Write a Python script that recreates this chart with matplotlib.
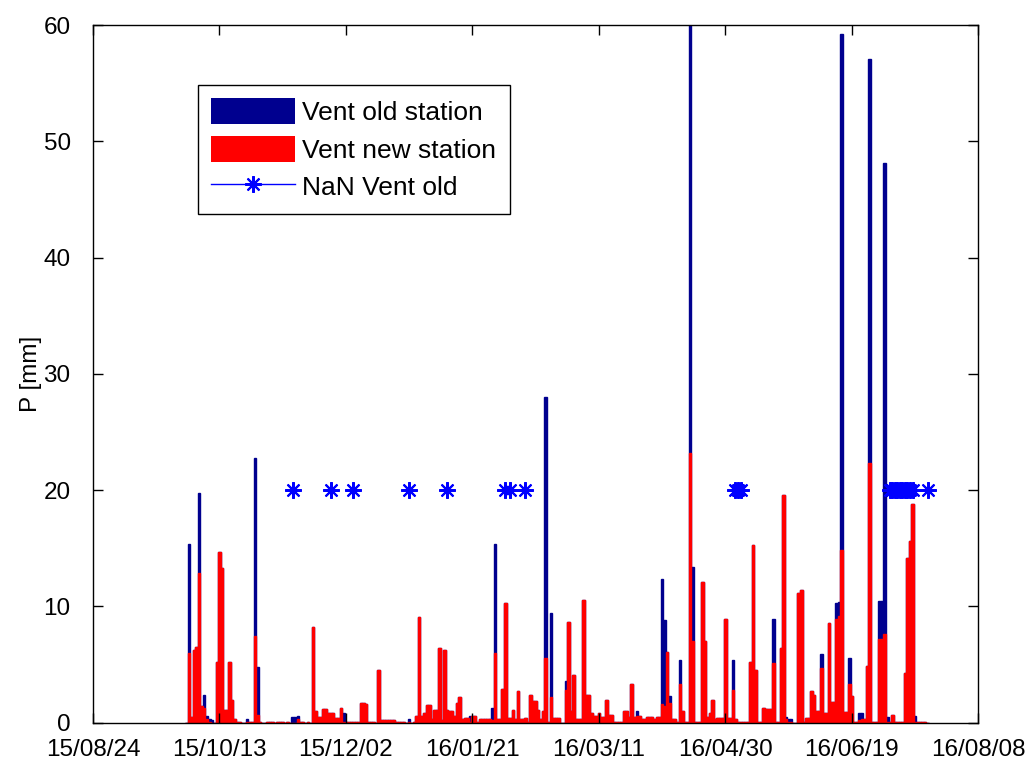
import numpy as np
import matplotlib.pyplot as plt
import matplotlib.dates as mdates
from matplotlib.lines import Line2D
from matplotlib.patches import Patch

# daily precipitation, first value is 2015-09-30
first_day = np.datetime64('2015-09-30')

old_p = [0, 15.4, 0.5, 6.3, 6.5, 19.8, 1.4, 2.4, 0.6, 0.3,
         0.2, 0, 5.2, 14.7, 13.3, 1.1, 1.1, 5.2, 2.0, 0.3,
         0.1, 0.1, 0, 0, 0.3, 0.1, 0.1, 22.8, 4.8, 0.1,
         0, 0, 0.1, 0.1, 0.1, 0, 0.1, 0.1, 0.1, 0,
         0.1, 0, 0.5, 0.5, 0.6, 0.1, 0.1, 0, 0.1, 0,
         8.2, 1.0, 0.5, 0.5, 1.2, 1.2, 0.8, 0.8, 0.8, 0.4,
         0.4, 1.3, 0.8, 0.1, 0.1, 0.1, 0.1, 0.1, 0.1, 1.7,
         1.7, 1.6, 0.1, 0.1, 0.1, 0, 4.5, 0.25, 0.25, 0.25,
         0.25, 0.25, 0.25, 0.1, 0.1, 0.1, 0.1, 0, 0.3, 0,
         0.1, 0.6, 9.1, 0.6, 0.8, 1.5, 1.5, 0.3, 1.1, 1.1,
         6.4, 0.2, 6.3, 1.1, 1.0, 1.0, 0.6, 1.7, 2.2, 0.3,
         0.4, 0.4, 0.6, 0.6, 0.6, 0.1, 0.3, 0.3, 0.3, 0.3,
         0.3, 1.3, 15.4, 0.3, 0.3, 2.9, 10.3, 0.4, 0.4, 1.1,
         0.3, 2.7, 0.3, 0.3, 0.4, 0.1, 2.4, 1.9, 1.9, 1.1,
         0.3, 1.0, 28.0, 0.1, 9.4, 0.4, 0.4, 0.4, 0, 0,
         3.6, 8.7, 1.0, 4.1, 0.3, 0.3, 0.3, 10.6, 2.4, 2.4,
         0.8, 0.6, 0.6, 0.8, 0.5, 0.5, 2.0, 0.7, 0.7, 0.1,
         0.1, 0.1, 0.1, 1.0, 1.0, 0.5, 3.3, 0.5, 1.0, 0.6,
         0.3, 0.3, 0.5, 0.5, 0.5, 0.3, 0.5, 0.5, 12.4, 8.8,
         6.1, 2.3, 0.3, 0.3, 0.1, 5.4, 1.0, 0.1, 0.1, 62.0,
         13.4, 0.1, 0.1, 0.1, 12.1, 7.0, 0.5, 0.8, 2.0, 0.3,
         0.4, 0.4, 0.4, 8.9, 0.4, 0.4, 5.4, 0.3, 0.1, 0.1,
         0.1, 0.1, 0.1, 5.2, 15.3, 4.5, 0.1, 0.1, 1.3, 1.2,
         1.2, 1.2, 8.9, 0.1, 0.1, 6.4, 19.6, 0.5, 0.3, 0.3,
         0, 0, 11.2, 11.4, 0.1, 0.4, 0.4, 2.7, 2.4, 1.0,
         1.0, 5.9, 0.8, 0.8, 8.6, 1.8, 1.8, 10.3, 10.4, 59.2,
         0.9, 0.9, 5.6, 2.3, 0.1, 0.1, 0.8, 0.8, 0.3, 4.9,
         57.1, 0.1, 0.1, 0.1, 10.5, 10.5, 48.1, 0.5, 0.1, 0.7,
         0.1, 0.1, 0.1, 0.1, 4.3, 14.2, 15.6, 18.8, 0.6, 0.1,
         0.1, 0.1, 0.1, 0]

new_p = [0, 6.0, 0.5, 6.3, 6.5, 12.9, 1.4, 1.3, 0.3, 0.1,
         0, 0, 5.2, 14.7, 13.3, 1.1, 1.1, 5.2, 2.0, 0.3,
         0.1, 0.1, 0, 0, 0.1, 0.1, 0.1, 7.5, 0.7, 0.1,
         0, 0, 0.1, 0.1, 0.1, 0, 0.1, 0.1, 0.1, 0,
         0.1, 0, 0, 0, 0.3, 0.1, 0.1, 0, 0.1, 0,
         8.2, 1.0, 0.5, 0.5, 1.2, 1.2, 0.8, 0.8, 0.8, 0.4,
         0.4, 1.3, 0.1, 0.1, 0.1, 0.1, 0.1, 0.1, 0.1, 1.7,
         1.7, 1.6, 0.1, 0.1, 0.1, 0, 4.5, 0.25, 0.25, 0.25,
         0.25, 0.25, 0.25, 0.1, 0.1, 0.1, 0.1, 0, 0.1, 0,
         0.1, 0.6, 9.1, 0.6, 0.8, 1.5, 1.5, 0.3, 1.1, 1.1,
         6.4, 0.2, 6.3, 1.1, 1.0, 1.0, 0.6, 1.7, 2.2, 0.3,
         0.4, 0.4, 0.1, 0.6, 0.6, 0.1, 0.3, 0.3, 0.3, 0.3,
         0.3, 0.2, 6.0, 0.3, 0.3, 2.9, 10.3, 0.4, 0.4, 1.1,
         0.3, 2.7, 0.3, 0.3, 0.4, 0.1, 2.4, 1.9, 1.9, 1.1,
         0.3, 1.0, 5.6, 0.1, 2.2, 0.4, 0.4, 0.4, 0, 0,
         2.8, 8.7, 1.0, 4.1, 0.3, 0.3, 0.3, 10.6, 2.4, 2.4,
         0.8, 0.6, 0.6, 0.8, 0.5, 0.5, 2.0, 0.7, 0.7, 0.1,
         0.1, 0.1, 0.1, 1.0, 1.0, 0.5, 3.3, 0.5, 0.6, 0.6,
         0.3, 0.3, 0.5, 0.5, 0.5, 0.3, 0.5, 0.5, 1.6, 1.4,
         6.1, 1.7, 0.3, 0.3, 0.1, 3.3, 1.0, 0.1, 0.1, 23.2,
         7.0, 0.1, 0.1, 0.1, 12.1, 7.0, 0.5, 0.8, 2.0, 0.3,
         0.4, 0.4, 0.4, 8.9, 0.4, 0.4, 2.8, 0.3, 0.1, 0.1,
         0.1, 0.1, 0.1, 5.2, 15.3, 4.5, 0.1, 0.1, 1.3, 1.2,
         1.2, 1.2, 5.1, 0.1, 0.1, 6.4, 19.6, 0.3, 0.1, 0.1,
         0, 0, 11.2, 11.4, 0.1, 0.4, 0.4, 2.7, 2.4, 1.0,
         1.0, 4.7, 0.8, 0.8, 8.6, 1.8, 1.8, 8.9, 9.2, 14.9,
         0.9, 0.9, 3.3, 2.3, 0.1, 0.1, 0.2, 0.3, 0.3, 4.9,
         22.3, 0.1, 0.1, 0.1, 7.2, 7.2, 7.6, 0.1, 0.1, 0.7,
         0.1, 0.1, 0.1, 0.1, 4.3, 14.2, 15.6, 18.8, 0.1, 0.1,
         0.1, 0.1, 0.1, 0]

# days where the old station gave NaN
nan_dates = ['2015-11-11', '2015-11-26', '2015-12-05', '2015-12-27', '2016-01-11',
             '2016-02-03', '2016-02-05', '2016-02-11',
             '2016-05-04', '2016-05-05', '2016-05-06',
             '2016-07-04', '2016-07-05', '2016-07-06', '2016-07-07', '2016-07-08',
             '2016-07-09', '2016-07-10', '2016-07-11', '2016-07-12', '2016-07-13',
             '2016-07-19']
nan_level = 20

tick_dates = ['2015-08-24', '2015-10-13', '2015-12-02', '2016-01-21',
              '2016-03-11', '2016-04-30', '2016-06-19', '2016-08-08']

plt.rcParams['font.family'] = ['Liberation Sans', 'DejaVu Sans']

x = mdates.date2num(first_day + np.arange(len(new_p)))

fig = plt.figure(figsize=(10.32, 7.6), dpi=100)
ax = fig.add_axes([0.090, 0.049, 0.858, 0.918])

old_color = '#00008f'
ax.bar(x, old_p, width=1.0, color=old_color, edgecolor=old_color, linewidth=1.0)
ax.bar(x, new_p, width=1.0, color='red', edgecolor='red', linewidth=1.0)

# NaN markers, line broken where days are not consecutive
nd = mdates.date2num(np.array(nan_dates, dtype='datetime64[D]'))
xs, ys = [], []
for i, d in enumerate(nd):
    if i > 0 and d - nd[i - 1] > 1:
        xs.append(np.nan)
        ys.append(np.nan)
    xs.append(d)
    ys.append(nan_level)
ax.plot(xs, ys, '-', color='blue', lw=1, marker=(8, 2, 0), ms=12, mew=1.5)

ticks = mdates.date2num(np.array(tick_dates, dtype='datetime64[D]'))
ax.set_xlim(ticks[0], ticks[-1])
ax.set_xticks(ticks)
ax.xaxis.set_major_formatter(mdates.DateFormatter('%y/%m/%d'))
ax.set_ylim(0, 60)
ax.set_yticks(range(0, 61, 10))
ax.tick_params(direction='in', top=True, right=True, length=7, width=1,
               labelsize=17.5)
ax.tick_params(axis='x', pad=12)
ax.tick_params(axis='y', pad=16)
for s in ax.spines.values():
    s.set_linewidth(1)
ax.set_ylabel('P [mm]', fontsize=17.5, labelpad=1)

handles = [Patch(facecolor=old_color, edgecolor='none'),
           Patch(facecolor='red', edgecolor='none'),
           Line2D([], [], color='blue', lw=1, marker=(8, 2, 0), ms=12, mew=1.5)]
leg = ax.legend(handles, ['Vent old station', 'Vent new station', 'NaN Vent old'],
                loc='upper left', bbox_to_anchor=(0.119, 0.914), borderaxespad=0,
                fontsize=19, handlelength=3.15, handleheight=1.15, handletextpad=0.3,
                labelspacing=0.4, borderpad=0.5, fancybox=False, framealpha=1)
leg.get_frame().set_edgecolor('black')
leg.get_frame().set_linewidth(1)

fig.savefig('out.png', dpi=100)
